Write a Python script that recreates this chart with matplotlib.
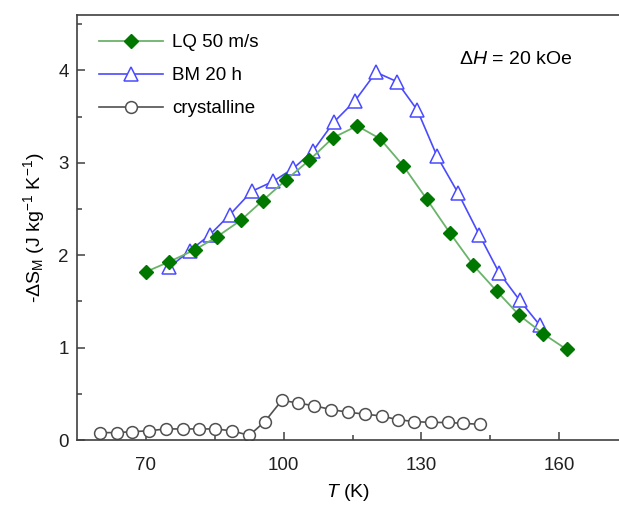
import matplotlib
matplotlib.use('Agg')
from matplotlib import pyplot as plt
from matplotlib.ticker import MultipleLocator

# LQ 50 m/s (melt-spun ribbon)
lq_T = [70, 75.1, 80.7, 85.5, 90.7, 95.4, 100.4, 105.6, 110.7, 116.0,
        121.0, 126.0, 131.1, 136.2, 141.3, 146.4, 151.3, 156.5, 161.6]
lq_dS = [1.82, 1.93, 2.06, 2.20, 2.38, 2.59, 2.81, 3.03, 3.27, 3.40,
         3.26, 2.97, 2.61, 2.24, 1.89, 1.61, 1.35, 1.15, 0.98]

# BM 20 h (ball milled)
bm_T = [75.1, 79.6, 83.9, 88.3, 93.0, 97.7, 102.1, 106.4, 110.9, 115.5,
        120.1, 124.6, 129.1, 133.4, 138.0, 142.6, 146.9, 151.4, 155.8]
bm_dS = [1.87, 2.05, 2.22, 2.44, 2.69, 2.80, 2.94, 3.13, 3.44, 3.67,
         3.98, 3.88, 3.57, 3.07, 2.67, 2.22, 1.81, 1.51, 1.24]

# crystalline
cr_T = [60.0, 63.6, 67.0, 70.7, 74.4, 78.0, 81.5, 85.0, 88.7, 92.5, 95.9,
        99.6, 103.1, 106.7, 110.3, 114.1, 117.7, 121.3, 124.8, 128.4,
        132.1, 135.7, 139.1, 142.7]
cr_dS = [0.08, 0.08, 0.09, 0.10, 0.12, 0.12, 0.12, 0.12, 0.10, 0.05, 0.20,
         0.43, 0.40, 0.37, 0.33, 0.30, 0.28, 0.26, 0.22, 0.20,
         0.19, 0.19, 0.18, 0.17]

x_major = [70, 100, 130, 160]
x_minor = [85, 115, 145]

plt.rcParams['font.family'] = ['Liberation Sans', 'DejaVu Sans']
plt.rcParams['mathtext.fontset'] = 'custom'
plt.rcParams['mathtext.rm'] = 'Liberation Sans'
plt.rcParams['mathtext.it'] = 'Liberation Sans:italic'

fig = plt.figure(figsize=(6.19, 5.05), dpi=100)
ax = fig.add_axes([0.1244, 0.1287, 0.8756, 0.8416])

ax.plot(lq_T, lq_dS, color='#6bb36b', lw=1.3, marker='D', ms=7.5,
        mfc='#007800', mec='#007800', label='LQ 50 m/s', zorder=3)
ax.plot(bm_T, bm_dS, color='#4a4aff', lw=1.2, marker='^', ms=10,
        mfc='white', mec='#4a4aff', mew=1.1, label='BM 20 h', zorder=2)
ax.plot(cr_T, cr_dS, color='#505050', lw=1.2, marker='o', ms=8.5,
        mfc='white', mec='#505050', mew=1.1, label='crystalline', zorder=2)

ax.set_xlim(55, 173)
ax.set_ylim(0, 4.6)
ax.set_xticks(x_major)
ax.set_xticks(x_minor, minor=True)
ax.yaxis.set_major_locator(MultipleLocator(1))
ax.yaxis.set_minor_locator(MultipleLocator(0.5))
ax.tick_params(which='both', direction='in', labelsize=13.5, width=1.1,
               color='#404040', labelcolor='#202020')
ax.tick_params(which='major', length=6)
ax.tick_params(which='minor', length=3.5)
ax.tick_params(axis='x', pad=12)
ax.tick_params(axis='y', pad=6)
for s in ['left', 'bottom', 'top']:
    ax.spines[s].set_color('#404040')
    ax.spines[s].set_linewidth(1.2)
ax.spines['right'].set_visible(False)

ax.set_xlabel(r'$\mathit{T}$ (K)', fontsize=14, labelpad=6)
ax.set_ylabel(r'-$\Delta$S$_\mathrm{M}$ (J kg$^{-1}$ K$^{-1}$)',
              fontsize=14, labelpad=8)

ax.text(0.705, 0.885, r'$\Delta\mathit{H}$ = 20 kOe', transform=ax.transAxes,
        fontsize=14)

ax.legend(loc='upper left', frameon=False, fontsize=13.5,
          bbox_to_anchor=(0.01, 0.995), handlelength=3.4,
          handletextpad=0.5, labelspacing=0.85)

fig.savefig('out.png', dpi=100)
